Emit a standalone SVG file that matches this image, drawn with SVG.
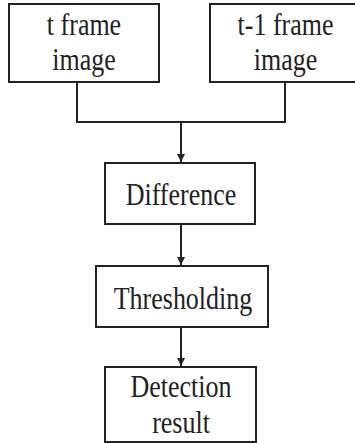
<svg xmlns="http://www.w3.org/2000/svg" width="355" height="443" viewBox="0 0 355 443">
<defs>
<style>
.box{fill:#fff;stroke:#222;stroke-width:2}
.lbl{font-family:"Liberation Serif",serif;font-size:26px;fill:#222;text-anchor:middle}
.ln{fill:none;stroke:#222;stroke-width:2}
</style>
<marker id="ah" viewBox="0 0 8 10" refX="8" refY="5" markerWidth="8" markerHeight="10" markerUnits="userSpaceOnUse" orient="auto">
<path d="M0,1 L8,5 L0,9 Z" fill="#222"/>
</marker>
</defs>
<rect width="355" height="443" fill="#fff"/>
<g id="connectors">
<polyline class="ln" points="77,82 77,122 285,122 285,82"/>
<line class="ln" x1="181" y1="122" x2="181" y2="162" marker-end="url(#ah)"/>
<line class="ln" x1="181" y1="224" x2="181" y2="265" marker-end="url(#ah)"/>
<line class="ln" x1="181" y1="327" x2="181" y2="366" marker-end="url(#ah)"/>
</g>
<g id="node-t">
<rect class="box" x="9" y="4" width="150" height="78"/>
<text class="lbl" transform="translate(84,35) scale(1,1.2)">t frame</text>
<text class="lbl" transform="translate(84,70) scale(1,1.2)">image</text>
</g>
<g id="node-t1">
<rect class="box" x="210" y="4" width="152" height="78"/>
<text class="lbl" transform="translate(285.5,35) scale(1,1.2)">t-1 frame</text>
<text class="lbl" transform="translate(285.5,70) scale(1,1.2)">image</text>
</g>
<g id="node-diff">
<rect class="box" x="105" y="163" width="150" height="61"/>
<text class="lbl" transform="translate(181,205) scale(1,1.2)">Difference</text>
</g>
<g id="node-thresh">
<rect class="box" x="96" y="266" width="172" height="61"/>
<text class="lbl" transform="translate(183,309) scale(1,1.2)">Thresholding</text>
</g>
<g id="node-det">
<rect class="box" x="105" y="367" width="151" height="75"/>
<text class="lbl" transform="translate(181,397) scale(1,1.2)">Detection</text>
<text class="lbl" transform="translate(181,433) scale(1,1.2)">result</text>
</g>
</svg>
